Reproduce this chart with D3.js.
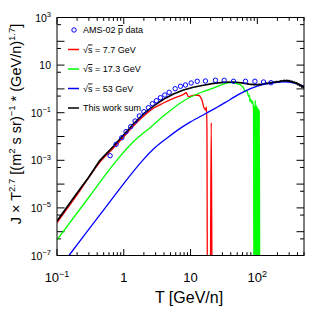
<!DOCTYPE html>
<html>
<head>
<meta charset="utf-8">
<script src="https://cdn.jsdelivr.net/npm/d3@7"></script>
<style>
  body { margin: 0; background: #fff; }
  text { font-family: "Liberation Sans", Arial, Helvetica, sans-serif; fill: #000; }
</style>
</head>
<body>
<script>
// AMS-02 antiproton points [T, J*T^2.7]
var amsData = [
  [0.624, 1.56e-3], [0.767, 4.7e-3], [0.933, 8.9e-3], [1.08, 0.0159], [1.27, 0.0258],
  [1.48, 0.0448], [1.71, 0.0727], [2.0, 0.110], [2.34, 0.162], [2.68, 0.239],
  [3.08, 0.319], [3.54, 0.427], [4.12, 0.555], [4.78, 0.72], [5.88, 1.02],
  [7.06, 1.29], [8.39, 1.46], [10.2, 1.77], [12.6, 2.09], [16.7, 2.15],
  [23.6, 2.30], [31.9, 2.30], [44, 2.09], [66.5, 2.09], [92, 2.09],
  [124, 1.95], [160, 1.82]
];

// sqrt(s) = 7.7 GeV
var red77 = [
  [0.1, 2.4e-6], [0.2, 3.5e-5], [0.44, 8.5e-4], [0.7, 3.3e-3], [1, 0.0098],
  [1.39, 0.0276], [1.97, 0.0706], [2.78, 0.153], [3.93, 0.256], [5.55, 0.40],
  [7.83, 0.59], [8.6, 0.69], [9.3, 0.47], [10.9, 0.53], [13.0, 0.54],
  [14.8, 0.34], [16.0, 0.153], [16.8, 0.13], [17.3, 0.175], [17.6, 0.02],
  [17.9, 1e-9], [19.7, 1e-9], [20.4, 0.038], [21.1, 1e-9], [30, 1e-9]
];

// sqrt(s) = 17.3 GeV
var green173 = [
  [0.1, 4.5e-7], [0.3, 2.8e-5], [0.785, 1e-3], [1.39, 6.0e-3], [2.48, 0.0234],
  [4.41, 0.094], [7.83, 0.31], [13.9, 0.69], [24.8, 1.24], [31, 1.6],
  [39, 1.85], [45, 1.8], [50, 1.62], [55, 1.52], [59, 1.3], [62, 1.1],
  [66, 0.76], [70, 0.85], [74, 0.47], [76, 0.55], [78, 0.29], [80, 0.36],
  [83, 0.248], [85, 0.3], [87.7, 0.13], [89, 1e-9], [90.5, 0.2], [92, 1e-9],
  [93, 0.34], [94.5, 1e-9], [96, 0.22], [98, 1e-9], [100, 0.18], [102, 1e-9],
  [104, 0.15], [105.5, 1e-9], [107, 0.13], [109, 1e-9], [150, 1e-9]
];

// sqrt(s) = 53 GeV
var blue53 = [
  [0.1, 2.2e-8], [0.151, 1e-7], [0.5, 8.3e-6], [1, 1.05e-4], [1.86, 9e-4],
  [3, 3.6e-3], [4.41, 8.5e-3], [7, 0.022], [10, 0.041], [16.6, 0.09],
  [25, 0.17], [39.3, 0.36], [62, 0.75], [100, 1.3], [150, 1.7],
  [250, 2.0], [350, 1.8], [500, 1.3]
];

// sum of the three
var sumAll = [
  [0.1, 2.8e-6], [0.2, 4.2e-5], [0.3, 2.0e-4], [0.44, 1.0e-3], [0.7, 3.9e-3],
  [1, 0.0118], [1.39, 0.0335], [1.97, 0.088], [2.78, 0.19], [3.93, 0.366],
  [5.55, 0.61], [7.83, 0.9], [11, 1.17], [15.6, 1.42], [22, 1.72],
  [31, 1.89], [44, 1.95], [62, 1.75], [75, 1.6], [88, 1.5], [100, 1.5],
  [110, 1.55], [124, 1.6], [135, 1.75], [145, 1.7], [155, 1.85], [165, 1.8],
  [175, 1.95], [185, 1.9], [195, 2.05], [210, 2.0], [225, 2.2], [240, 2.1],
  [250, 2.3], [260, 2.15], [275, 2.3], [290, 2.1], [300, 2.25], [315, 2.0],
  [330, 2.1], [345, 1.85], [360, 1.95], [375, 1.7], [390, 1.8], [405, 1.5],
  [420, 1.6], [435, 1.35], [450, 1.45], [465, 1.2], [480, 1.3], [500, 1.1]
];

var xLabelTicks = [0.1, 1, 10, 100];
var xLabelText = [["10", "\u22121"], ["1", ""], ["10", ""], ["10", "2"]];
var yLabelTicks = [1e3, 10, 0.1, 1e-3, 1e-5, 1e-7];
var yLabelText = [["10", "3"], ["10", ""], ["10", "\u22121"], ["10", "\u22123"], ["10", "\u22125"], ["10", "\u22127"]];

var legendItems = [
  { kind: "marker", color: "#0000ff", label: "ams" },
  { kind: "line", color: "#ff0000", label: "7.7 GeV" },
  { kind: "line", color: "#00ff00", label: "17.3 GeV" },
  { kind: "line", color: "#0000ff", label: "53 GeV" },
  { kind: "line", color: "#000000", label: "This work sum" }
];

var W = 332, H = 322;
var L = 57, R = 304, T = 17.5, B = 255.5;

var svg = d3.select("body").append("svg").attr("width", W).attr("height", H);

var x = d3.scaleLog().domain([0.1, 500]).range([L, R]);
var y = d3.scaleLog().domain([1e-7, 1e3]).range([B, T]);

svg.append("defs").append("clipPath").attr("id", "plotclip")
  .append("rect").attr("x", L).attr("y", T).attr("width", R - L).attr("height", B - T);

// ticks (inward, on all four sides)
var xMajor = [0.1, 1, 10, 100];
var xMinor = [];
[0.1, 1, 10, 100].forEach(function (d) {
  for (var k = 2; k <= 9; k++) if (d * k <= 500) xMinor.push(d * k);
});
var yMajor = d3.range(-7, 4).map(function (e) { return Math.pow(10, e); });
var yMinor = d3.range(-7, 3).map(function (e) { return 5 * Math.pow(10, e); });

var tg = svg.append("g").attr("stroke", "#000").attr("stroke-width", 1);
function xt(v, len) {
  tg.append("line").attr("x1", x(v)).attr("x2", x(v)).attr("y1", B).attr("y2", B - len);
  tg.append("line").attr("x1", x(v)).attr("x2", x(v)).attr("y1", T).attr("y2", T + len);
}
function yt(v, len) {
  tg.append("line").attr("y1", y(v)).attr("y2", y(v)).attr("x1", L).attr("x2", L + len);
  tg.append("line").attr("y1", y(v)).attr("y2", y(v)).attr("x1", R).attr("x2", R - len);
}
xMajor.forEach(function (v) { xt(v, 6.5); });
xMinor.forEach(function (v) { xt(v, 3.3); });
yMajor.forEach(function (v) { yt(v, 7.5); });
yMinor.forEach(function (v) { yt(v, 4); });

// data curves
var line = d3.line()
  .x(function (d) { return x(d[0]); })
  .y(function (d) { return y(d[1]); });
var smooth = d3.line()
  .curve(d3.curveMonotoneX)
  .x(function (d) { return x(d[0]); })
  .y(function (d) { return y(d[1]); });

var plot = svg.append("g").attr("clip-path", "url(#plotclip)");
[[red77, "#ff0000", 1.3, smooth], [green173, "#00ff00", 1.3, smooth],
 [blue53, "#0000ff", 1.3, smooth], [sumAll, "#000000", 1.7, line]]
  .forEach(function (s) {
    plot.append("path").datum(s[0])
      .attr("d", s[3])
      .attr("fill", "none")
      .attr("stroke", s[1])
      .attr("stroke-width", s[2])
      .attr("stroke-linejoin", "round");
  });

plot.selectAll(".ams").data(amsData).enter().append("circle")
  .attr("class", "ams")
  .attr("cx", function (d) { return x(d[0]); })
  .attr("cy", function (d) { return y(d[1]); })
  .attr("r", 2.2)
  .attr("fill", "none")
  .attr("stroke", "#0000ff")
  .attr("stroke-width", 1);

// frame
svg.append("rect").attr("x", L).attr("y", T).attr("width", R - L).attr("height", B - T)
  .attr("fill", "none").attr("stroke", "#000").attr("stroke-width", 1);

// tick labels
xLabelTicks.forEach(function (v, i) {
  var t = svg.append("text").attr("x", x(v)).attr("y", 282)
    .attr("text-anchor", "middle").style("font-size", "13px");
  t.append("tspan").text(xLabelText[i][0]);
  if (xLabelText[i][1]) t.append("tspan").attr("dy", -5).style("font-size", "9px").text(xLabelText[i][1]);
});
yLabelTicks.forEach(function (v, i) {
  var t = svg.append("text").attr("x", 51).attr("y", y(v) + 4)
    .attr("text-anchor", "end").style("font-size", "10.5px");
  t.append("tspan").text(yLabelText[i][0]);
  if (yLabelText[i][1]) t.append("tspan").attr("dy", -4.5).style("font-size", "7.5px").text(yLabelText[i][1]);
});

// axis titles
svg.append("text").attr("x", 189).attr("y", 303).attr("text-anchor", "middle")
  .style("font-size", "16px").text("T [GeV/n]");

var yTitleParts = [
  ["J \u00d7 T", 0], ["2.7", 1], [" [(m", 0], ["2", 1], [" s sr)", 0],
  ["\u22121", 1], [" * (GeV/n)", 0], ["1.7", 1], ["]", 0]
];
var ytl = svg.append("text").attr("transform", "translate(20.5,124) rotate(-90)")
  .attr("text-anchor", "middle").style("font-size", "14.5px");
var shifted = false;
yTitleParts.forEach(function (p) {
  var ts = ytl.append("tspan").text(p[0]);
  if (p[1]) {
    ts.style("font-size", "9.5px").attr("dy", shifted ? 0 : -6);
    shifted = true;
  } else {
    if (shifted) ts.attr("dy", 6);
    shifted = false;
  }
});

// legend
var lg = svg.append("g");
legendItems.forEach(function (d, i) {
  var ly = 30 + i * 19.5;
  if (d.kind === "marker") {
    lg.append("circle").attr("cx", 74).attr("cy", ly).attr("r", 2.2)
      .attr("fill", "none").attr("stroke", d.color).attr("stroke-width", 1);
  } else {
    lg.append("line").attr("x1", 68).attr("x2", 79).attr("y1", ly).attr("y2", ly)
      .attr("stroke", d.color).attr("stroke-width", 1.5);
  }
  var t = lg.append("text").attr("x", 83).attr("y", ly + 3).style("font-size", "9px");
  if (d.label === "ams") {
    t.append("tspan").text("AMS-02 ");
    t.append("tspan").style("text-decoration", "overline").text("p");
    t.append("tspan").text(" data");
  } else if (d.kind === "line" && d.label !== "This work sum") {
    t.append("tspan").text("\u221a");
    t.append("tspan").style("text-decoration", "overline").text("s");
    t.append("tspan").text(" = " + d.label);
  } else {
    t.text(d.label);
  }
});
</script>
</body>
</html>
